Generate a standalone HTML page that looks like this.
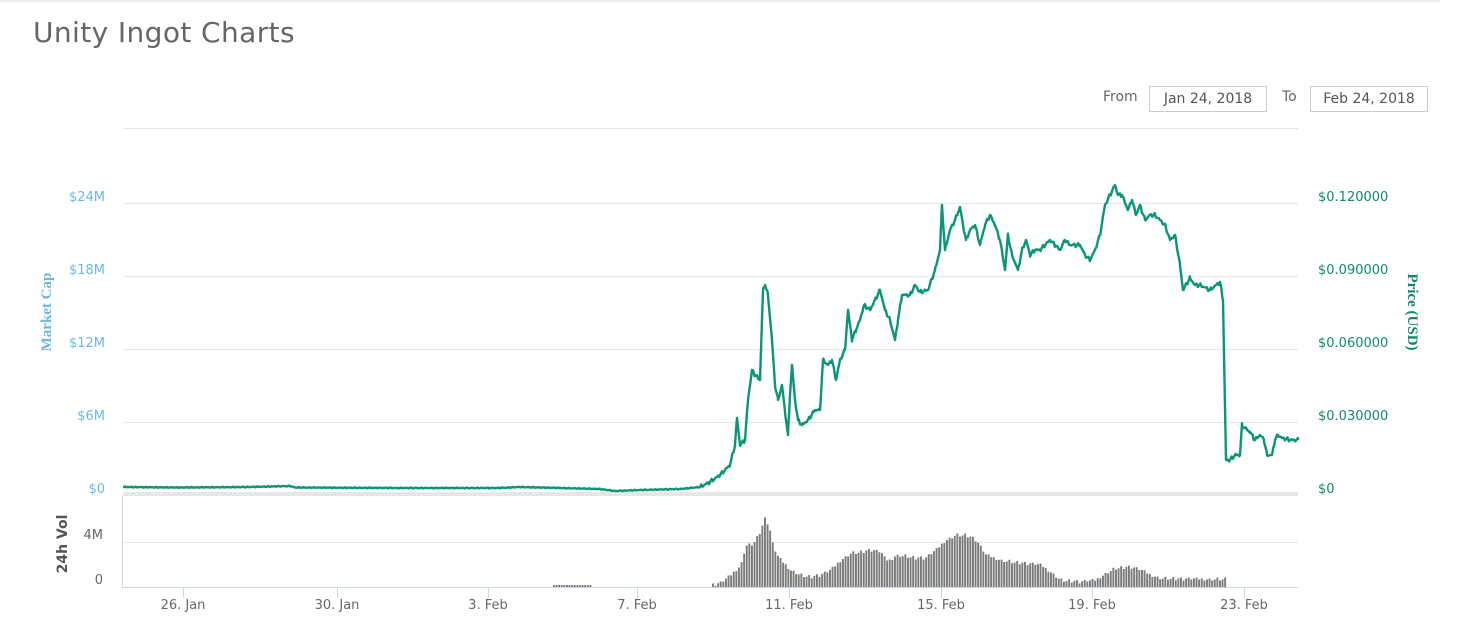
<!DOCTYPE html>
<html><head><meta charset="utf-8"><style>
body{margin:0;background:#fff;width:1482px;height:642px;overflow:hidden;font-family:"DejaVu Sans","Liberation Sans",sans-serif}
.t{position:absolute;left:33px;top:16px;font-size:28px;color:#666;font-family:"DejaVu Sans","Liberation Sans",sans-serif;letter-spacing:0.4px}
.lb{position:absolute;font-size:14px;color:#666;top:89px}
.bx{position:absolute;top:86px;height:24px;border:1px solid #ccc;font-size:14px;color:#555;line-height:24px;text-align:center;box-sizing:border-box}
</style></head><body>
<div style="position:absolute;left:0;top:0;width:1440px;height:2px;background:#eee"></div>
<div class="t">Unity Ingot Charts</div>
<div class="lb" style="left:1103px">From</div>
<div class="bx" style="left:1149px;width:118px;height:26px">Jan 24, 2018</div>
<div class="lb" style="left:1282px">To</div>
<div class="bx" style="left:1310px;width:118px;height:26px">Feb 24, 2018</div>
<svg id="s" width="1482" height="642" style="position:absolute;left:0;top:0" font-family="DejaVu Sans, Liberation Sans, sans-serif">
<g stroke="#e6e6e6" stroke-width="1">
<line x1="123" x2="1298" y1="128.5" y2="128.5"/><line x1="123" x2="1298" y1="203.5" y2="203.5"/><line x1="123" x2="1298" y1="276.5" y2="276.5"/><line x1="123" x2="1298" y1="349.5" y2="349.5"/><line x1="123" x2="1298" y1="422.5" y2="422.5"/><line x1="123" x2="1298" y1="542.5" y2="542.5"/>
</g>
<rect x="123" y="492" width="1175" height="4" fill="#e6e6e6"/>
<line x1="123" x2="1298" y1="587.5" y2="587.5" stroke="#ccd6eb"/>
<line x1="122.5" x2="122.5" y1="496" y2="588" stroke="#ccd6eb"/>
<g stroke="#ccd6eb"><line x1="183.5" x2="183.5" y1="588" y2="598"/><line x1="337.5" x2="337.5" y1="588" y2="598"/><line x1="488.5" x2="488.5" y1="588" y2="598"/><line x1="637.5" x2="637.5" y1="588" y2="598"/><line x1="789.5" x2="789.5" y1="588" y2="598"/><line x1="941.5" x2="941.5" y1="588" y2="598"/><line x1="1092.5" x2="1092.5" y1="588" y2="598"/><line x1="1244.5" x2="1244.5" y1="588" y2="598"/></g>
<g font-size="13" fill="#666" text-anchor="middle"><text x="183" y="609">26. Jan</text><text x="337" y="609">30. Jan</text><text x="488" y="609">3. Feb</text><text x="637" y="609">7. Feb</text><text x="789" y="609">11. Feb</text><text x="941" y="609">15. Feb</text><text x="1092" y="609">19. Feb</text><text x="1244" y="609">23. Feb</text></g>
<g font-size="13" fill="#6db7e0" text-anchor="end"><text x="105" y="201">$24M</text><text x="105" y="274">$18M</text><text x="105" y="347">$12M</text><text x="105" y="420">$6M</text><text x="105" y="493">$0</text></g>
<g font-size="13" fill="#0f8a6e"><text x="1318" y="201">$0.120000</text><text x="1318" y="274">$0.090000</text><text x="1318" y="347">$0.060000</text><text x="1318" y="420">$0.030000</text><text x="1318" y="493">$0</text></g>
<g font-size="13" fill="#666" text-anchor="end"><text x="103" y="539">4M</text><text x="103" y="584">0</text></g>
<text transform="translate(51,312) rotate(-90)" text-anchor="middle" font-size="15" font-weight="bold" fill="#6db7e0" font-family="Liberation Serif, serif">Market Cap</text>
<text transform="translate(1408,312) rotate(90)" text-anchor="middle" font-size="15" font-weight="bold" fill="#0f8a6e" font-family="Liberation Serif, serif">Price (USD)</text>
<text transform="translate(67,544) rotate(-90)" text-anchor="middle" font-size="14" font-weight="bold" fill="#555">24h Vol</text>
<g id="vol" fill="#7a7a7a"></g>
<path id="pl" fill="none" stroke="#0a9676" stroke-width="2.4" stroke-linejoin="round"/>
</svg>
<script>
var P=[[123,487],[180,487.5],[250,487],[290,486],[295,487.5],[400,488],[500,488],[520,487],[560,488],[600,489],[615,491],[640,490],[680,489],[700,487],[710,482],[720,475],[730,465],[735,445],[737,418],[740,445],[745,440],[748,400],[752,370],[755,375],[760,380],[763,290],[765,285],[768,295],[772,340],[775,385],[778,400],[782,385],[786,420],[788,435],[790,395],[792,365],[795,400],[798,420],[802,425],[808,420],[815,410],[820,410],[823,360],[828,365],[832,360],[836,380],[840,360],[845,350],[848,310],[852,340],[856,330],[860,320],[864,305],[870,310],[875,300],[880,290],[885,310],[890,320],[895,340],[898,320],[902,295],[910,295],[915,285],[920,292],[928,290],[935,270],[940,250],[942,205],[945,250],[950,230],[955,220],[960,207],[963,225],[966,240],[970,230],[975,225],[980,245],[985,225],[990,215],[995,225],[1000,240],[1005,270],[1008,235],[1012,255],[1018,270],[1022,250],[1026,240],[1030,255],[1035,250],[1040,250],[1045,245],[1050,240],[1055,245],[1060,250],[1065,240],[1070,245],[1080,245],[1085,255],[1090,260],[1095,250],[1100,235],[1105,205],[1110,195],[1115,185],[1118,195],[1122,195],[1128,210],[1132,200],[1136,215],[1140,205],[1145,220],[1150,215],[1155,215],[1160,220],[1165,225],[1170,240],[1175,235],[1180,265],[1183,290],[1190,278],[1195,285],[1200,285],[1210,290],[1220,282],[1223,300],[1226,460],[1230,460],[1235,455],[1240,455],[1242,425],[1245,428],[1250,432],[1255,440],[1260,435],[1264,440],[1267,455],[1272,455],[1275,440],[1278,435],[1282,438],[1290,440],[1298,440]];
function yAt(x){for(var i=0;i<P.length-1;i++){if(x>=P[i][0]&&x<=P[i+1][0]){var t=(x-P[i][0])/(P[i+1][0]-P[i][0]);return P[i][1]+t*(P[i+1][1]-P[i][1]);}}return P[P.length-1][1];}
var pts=[];P.forEach(function(p){pts.push([p[0],p[1]]);});
for(var x=124;x<1298;x+=1.3){pts.push([x,null]);}
pts.sort(function(a,b){return a[0]-b[0];});
var d="",k=0;pts.forEach(function(p,i){var y=p[1];if(y===null){var amp=p[0]<700?0.6:2.2;y=yAt(p[0])+Math.sin(p[0]*2.7)*amp*Math.cos(p[0]*0.9);}d+=(i?"L":"M")+p[0].toFixed(1)+","+y.toFixed(1);});
document.getElementById("pl").setAttribute("d",d);
var V=[[712,585],[720,583],[730,575],[735,570],[740,565],[745,545],[750,545],[755,540],[760,530],[764,519],[768,525],[772,545],[776,555],[780,560],[785,565],[790,570],[800,575],[810,577],[820,575],[830,570],[840,560],[850,553],[860,552],[870,550],[880,552],[885,560],[890,560],[895,555],[905,556],[915,558],[925,558],[935,550],[945,540],[955,535],[965,535],[975,540],[985,555],[1000,560],[1020,563],[1040,565],[1050,572],[1060,580],[1080,582],[1095,580],[1105,573],[1115,568],[1130,567],[1140,570],[1150,575],[1160,578],[1180,579],[1226,579]];
function f(x){for(var i=0;i<V.length-1;i++){if(x>=V[i][0]&&x<=V[i+1][0]){var t=(x-V[i][0])/(V[i+1][0]-V[i][0]);return V[i][1]+t*(V[i+1][1]-V[i][1]);}}return 587;}
var g=document.getElementById("vol"),h="";
for(var x=712;x<=1226;x+=2.6){var y=f(x)+((Math.round(x)*13)%4-1.5);if(y>586)y=586;h+='<rect x="'+x.toFixed(1)+'" y="'+y.toFixed(1)+'" width="1.9" height="'+(587-y).toFixed(1)+'"/>';}
for(var x=553;x<=590;x+=2.6){h+='<rect x="'+x.toFixed(1)+'" y="585" width="1.9" height="2"/>';}
g.innerHTML=h;
</script>
</body></html>
